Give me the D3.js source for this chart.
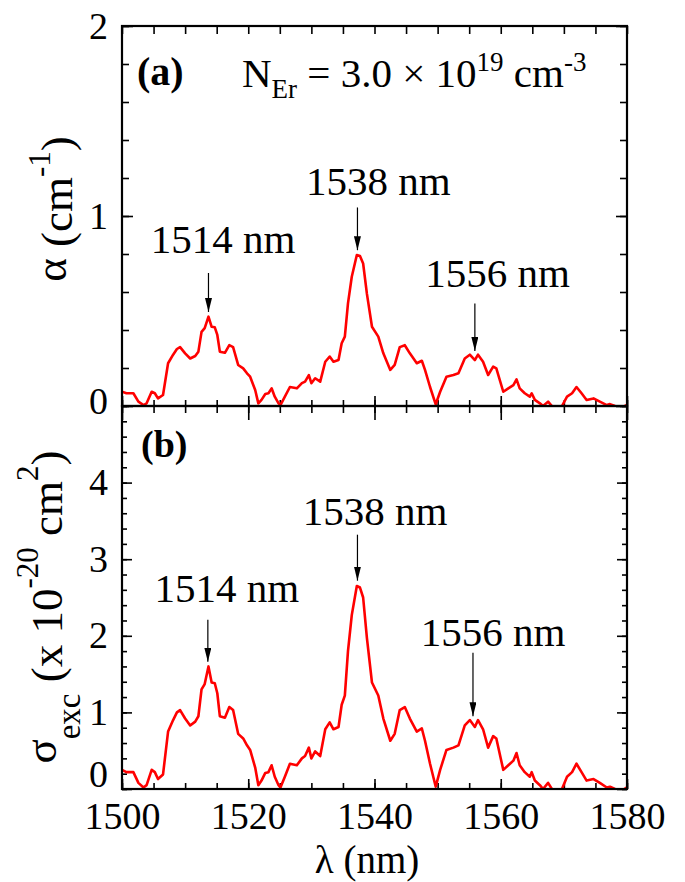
<!DOCTYPE html>
<html>
<head>
<meta charset="utf-8">
<script src="https://cdn.jsdelivr.net/npm/d3@7/dist/d3.min.js"></script>
<style>
  body { margin: 0; background: #fff; }
</style>
</head>
<body>
<svg id="chart" width="685" height="882"></svg>
<script>
// ---------------- data ----------------
const wavelength = [1500,1500.7,1501.8,1502.6,1503.4,1503.9,1504.7,1505.2,1505.7,1506.5,
  1507.3,1508.1,1508.7,1509.2,1510.0,1510.8,1511.6,1512.1,1512.6,1513.1,
  1513.7,1514.2,1514.7,1515.1,1515.5,1516.3,1517.0,1517.6,1518.4,1519.2,
  1519.8,1520.3,1521.1,1521.6,1522.1,1522.7,1523.2,1523.7,1524.2,1524.8,
  1525.1,1525.8,1526.6,1527.7,1528.5,1529.0,1529.6,1530.0,1530.6,1531.4,
  1532.2,1532.9,1533.5,1534.3,1534.8,1535.3,1535.8,1536.4,1537.2,1537.7,
  1538.2,1538.8,1539.6,1540.6,1541.4,1542.5,1543.2,1544.0,1544.8,1545.6,
  1546.7,1547.5,1548.0,1548.8,1549.7,1550.4,1551.4,1552.5,1553.3,1554.3,
  1555.1,1555.9,1556.4,1557.2,1558.0,1558.8,1559.3,1560.4,1561.2,1562.0,
  1562.5,1563.0,1563.8,1564.6,1564.9,1565.4,1566.2,1566.7,1567.5,1568.1,
  1568.9,1569.7,1570.5,1571.3,1572.0,1572.8,1573.6,1574.7,1575.7,1576.8,
  1577.3,1578.1,1579.0,1580];

const alpha = [0.075,0.067,0.067,0.023,0.005,0.014,0.075,0.067,0.04,0.058,
  0.225,0.27,0.30,0.31,0.277,0.25,0.263,0.286,0.39,0.41,
  0.47,0.417,0.414,0.374,0.286,0.28,0.32,0.31,0.216,0.198,
  0.172,0.154,0.084,0.014,0.032,0.063,0.067,0.093,0.049,0.014,
  0.005,0.049,0.10,0.093,0.12,0.128,0.163,0.12,0.146,0.128,
  0.233,0.26,0.233,0.242,0.33,0.365,0.54,0.68,0.795,0.79,
  0.75,0.59,0.417,0.365,0.277,0.19,0.216,0.31,0.32,0.277,
  0.225,0.238,0.19,0.10,0.009,0.075,0.154,0.163,0.172,0.25,
  0.27,0.242,0.27,0.233,0.163,0.207,0.198,0.075,0.093,0.11,
  0.14,0.093,0.067,0.049,0.067,0.032,0.014,0.0,0.023,0.0,
  -0.03,0.0,0.049,0.067,0.10,0.067,0.032,0.04,0.023,0.005,
  0.01,0.0,-0.01,0.005];

const sigmaExc = [0.25,0.22,0.22,0.08,0.02,0.05,0.25,0.22,0.13,0.19,
  0.75,0.90,1.00,1.03,0.92,0.83,0.88,0.95,1.30,1.37,
  1.60,1.39,1.38,1.25,0.95,0.93,1.07,1.03,0.72,0.66,
  0.57,0.51,0.28,0.05,0.11,0.21,0.22,0.31,0.16,0.05,
  0.02,0.16,0.33,0.31,0.40,0.43,0.54,0.40,0.49,0.43,
  0.78,0.87,0.78,0.81,1.10,1.22,1.80,2.27,2.65,2.63,
  2.50,1.97,1.39,1.22,0.92,0.63,0.72,1.03,1.07,0.92,
  0.75,0.79,0.63,0.33,0.03,0.25,0.51,0.54,0.57,0.83,
  0.90,0.81,0.90,0.78,0.54,0.69,0.66,0.25,0.31,0.37,
  0.47,0.31,0.22,0.16,0.22,0.11,0.05,0.0,0.08,0.0,
  -0.10,0.0,0.16,0.22,0.33,0.22,0.11,0.13,0.08,0.02,
  0.03,0.0,-0.03,0.02];

const xTickLabels = [1500, 1520, 1540, 1560, 1580];
const yTicksA = [0, 1, 2];
const yTicksB = [0, 1, 2, 3, 4];
const peakLabels = ["1514 nm", "1538 nm", "1556 nm"];

// annotation placement (data units)
const annA = [
  {text: peakLabels[0], tx: 1516.0, ty: 0.805, ax: 1513.7, a0: 0.70, a1: 0.495},
  {text: peakLabels[1], tx: 1540.6, ty: 1.11,  ax: 1537.3, a0: 1.045, a1: 0.82},
  {text: peakLabels[2], tx: 1559.5, ty: 0.626, ax: 1555.9, a0: 0.54, a1: 0.29}
];
const annB = [
  {text: peakLabels[0], tx: 1516.6, ty: 2.44, ax: 1513.6, a0: 2.21, a1: 1.66},
  {text: peakLabels[1], tx: 1540.1, ty: 3.45, ax: 1537.3, a0: 3.32, a1: 2.72},
  {text: peakLabels[2], tx: 1558.8, ty: 1.87, ax: 1555.6, a0: 1.78, a1: 0.95}
];

// ---------------- layout ----------------
const FONT = '"Liberation Serif", Tinos, "Times New Roman", Times, "DejaVu Serif", serif';
const svg = d3.select("#chart").attr("font-family", FONT);
const L = 122, R = 627;
const aTop = 26, mid = 406, bBot = 789;
const FS = 38;     // tick labels
const FSA = 41;    // annotations

const x = d3.scaleLinear().domain([1500, 1580]).range([L, R]);
const yA = d3.scaleLinear().domain([0, 2]).range([mid, aTop]);
const yB = d3.scaleLinear().domain([0, 5]).range([bBot, mid]);

const xMinor = d3.range(1500, 1580.1, 5);
const yMinorA = d3.range(0, 2.01, 0.2);
const yMinorB = d3.range(0, 5.01, 0.2);

const defs = svg.append("defs");
defs.append("clipPath").attr("id", "clipA").append("rect")
  .attr("x", L).attr("y", aTop).attr("width", R - L).attr("height", mid - aTop);
defs.append("clipPath").attr("id", "clipB").append("rect")
  .attr("x", L).attr("y", mid).attr("width", R - L).attr("height", bBot - mid);
defs.append("marker").attr("id", "arrow").attr("viewBox", "0 0 20 10")
  .attr("refX", 20).attr("refY", 5).attr("markerWidth", 14).attr("markerHeight", 7)
  .attr("markerUnits", "userSpaceOnUse").attr("orient", "auto")
  .append("path").attr("d", "M0,0 L20,5 L0,10 Z").attr("fill", "#000");

function styleAxis(g) {
  g.attr("font-family", FONT);
  g.select(".domain").remove();
  g.selectAll(".tick line").attr("stroke", "#000").attr("stroke-width", 1.6);
  g.selectAll("text").attr("font-size", FS).attr("font-family", FONT).attr("fill", "#000");
}

function addAxis(axis, tx, ty) {
  const g = svg.append("g").attr("transform", `translate(${tx},${ty})`).call(axis);
  styleAxis(g);
  return g;
}

// ----- Panel A axes -----
addAxis(d3.axisBottom(x).tickValues(xMinor).tickSize(-6).tickFormat(""), 0, mid);
addAxis(d3.axisBottom(x).tickValues(xTickLabels).tickSize(-10).tickFormat(""), 0, mid);
addAxis(d3.axisTop(x).tickValues(xMinor).tickSize(-8).tickFormat(""), 0, aTop);
addAxis(d3.axisLeft(yA).tickValues(yMinorA).tickSize(-7).tickFormat(""), L, 0);
const gA = addAxis(d3.axisLeft(yA).tickValues(yTicksA).tickSize(-11).tickPadding(14).tickFormat(d3.format("d")), L, 0);
gA.selectAll(".tick text").filter(d => d === 0).attr("y", -5);
addAxis(d3.axisRight(yA).tickValues(yMinorA).tickSize(-7).tickFormat(""), R, 0);
addAxis(d3.axisRight(yA).tickValues(yTicksA).tickSize(-11).tickFormat(""), R, 0);

// ----- Panel B axes -----
addAxis(d3.axisTop(x).tickValues(xMinor).tickSize(-7).tickFormat(""), 0, mid);
addAxis(d3.axisTop(x).tickValues(xTickLabels).tickSize(-14).tickFormat(""), 0, mid);
addAxis(d3.axisBottom(x).tickValues(xMinor).tickSize(-6).tickFormat(""), 0, bBot);
addAxis(d3.axisBottom(x).tickValues(xTickLabels).tickSize(-10).tickPadding(13).tickFormat(d3.format("d")), 0, bBot);
addAxis(d3.axisLeft(yB).tickValues(yMinorB).tickSize(-5).tickFormat(""), L, 0);
const gB = addAxis(d3.axisLeft(yB).tickValues(yTicksB).tickSize(-10).tickPadding(14).tickFormat(d3.format("d")), L, 0);
gB.selectAll(".tick text").filter(d => d === 0).attr("y", -15);
addAxis(d3.axisRight(yB).tickValues(yMinorB).tickSize(-5).tickFormat(""), R, 0);
addAxis(d3.axisRight(yB).tickValues(yTicksB).tickSize(-10).tickFormat(""), R, 0);

// ----- curves -----
const ptsA = wavelength.map((w, i) => [w, alpha[i]]);
const ptsB = wavelength.map((w, i) => [w, sigmaExc[i]]);

svg.append("path").datum(ptsA)
  .attr("clip-path", "url(#clipA)")
  .attr("d", d3.line().x(d => x(d[0])).y(d => yA(d[1])))
  .attr("fill", "none").attr("stroke", "#ff0000").attr("stroke-width", 2.6).attr("stroke-linejoin", "round");

svg.append("path").datum(ptsB)
  .attr("clip-path", "url(#clipB)")
  .attr("d", d3.line().x(d => x(d[0])).y(d => yB(d[1])))
  .attr("fill", "none").attr("stroke", "#ff0000").attr("stroke-width", 2.6).attr("stroke-linejoin", "round");

// ----- frames -----
svg.append("rect").attr("x", L).attr("y", aTop).attr("width", R - L).attr("height", mid - aTop)
  .attr("fill", "none").attr("stroke", "#000").attr("stroke-width", 2.2);
svg.append("rect").attr("x", L).attr("y", mid).attr("width", R - L).attr("height", bBot - mid)
  .attr("fill", "none").attr("stroke", "#000").attr("stroke-width", 2.2);

// ----- annotations -----
function annotate(list, y) {
  list.forEach(a => {
    svg.append("text").attr("x", x(a.tx)).attr("y", y(a.ty))
      .attr("text-anchor", "middle").attr("font-size", FSA).attr("font-family", FONT).text(a.text);
    svg.append("line").attr("x1", x(a.ax)).attr("x2", x(a.ax))
      .attr("y1", y(a.a0)).attr("y2", y(a.a1))
      .attr("stroke", "#000").attr("stroke-width", 1.2).attr("marker-end", "url(#arrow)");
  });
}
annotate(annA, yA);
annotate(annB, yB);

// panel letters
svg.append("text").attr("x", 137).attr("y", 85).attr("font-size", 40).attr("font-weight", "bold").attr("font-family", FONT).text("(a)");
svg.append("text").attr("x", 141).attr("y", 457).attr("font-size", 38).attr("font-weight", "bold").attr("font-family", FONT).text("(b)");

// N_Er text
const nt = svg.append("text").attr("x", 242).attr("y", 87).attr("font-size", 41).attr("font-family", FONT);
nt.append("tspan").text("N");
nt.append("tspan").attr("font-size", 27).attr("dy", 11).text("Er");
nt.append("tspan").attr("dy", -11).text(" = 3.0 \u00d7 10");
nt.append("tspan").attr("font-size", 27).attr("dy", -16).text("19");
nt.append("tspan").attr("dy", 16).text(" cm");
nt.append("tspan").attr("font-size", 27).attr("dy", -16).text("-3");

// y titles
const tA = svg.append("text").attr("transform", "translate(72,209) rotate(-90)")
  .attr("text-anchor", "middle").attr("font-size", 45).attr("font-family", FONT);
tA.append("tspan").attr("dy", -6).text("\u03b1");
tA.append("tspan").attr("dy", 6).text(" (cm");
tA.append("tspan").attr("font-size", 31).attr("dy", -22).text("-1");
tA.append("tspan").attr("dy", 22).text(")");

const tB = svg.append("text").attr("transform", "translate(62,607) rotate(-90)")
  .attr("text-anchor", "middle").attr("font-size", 45).attr("font-family", FONT);
tB.append("tspan").attr("dy", -6).text("\u03c3");
tB.append("tspan").attr("font-size", 33).attr("dy", 24).text("exc");
tB.append("tspan").attr("dy", -18).text(" (x 10");
tB.append("tspan").attr("font-size", 31).attr("dy", -24).text("-20");
tB.append("tspan").attr("dy", 24).text(" cm");
tB.append("tspan").attr("font-size", 31).attr("dy", -24).text("2");
tB.append("tspan").attr("dy", 24).text(")");

// x title
svg.append("text").attr("x", 367).attr("y", 873).attr("text-anchor", "middle")
  .attr("font-size", 39).attr("font-family", FONT).text("\u03bb (nm)");
</script>
</body>
</html>
